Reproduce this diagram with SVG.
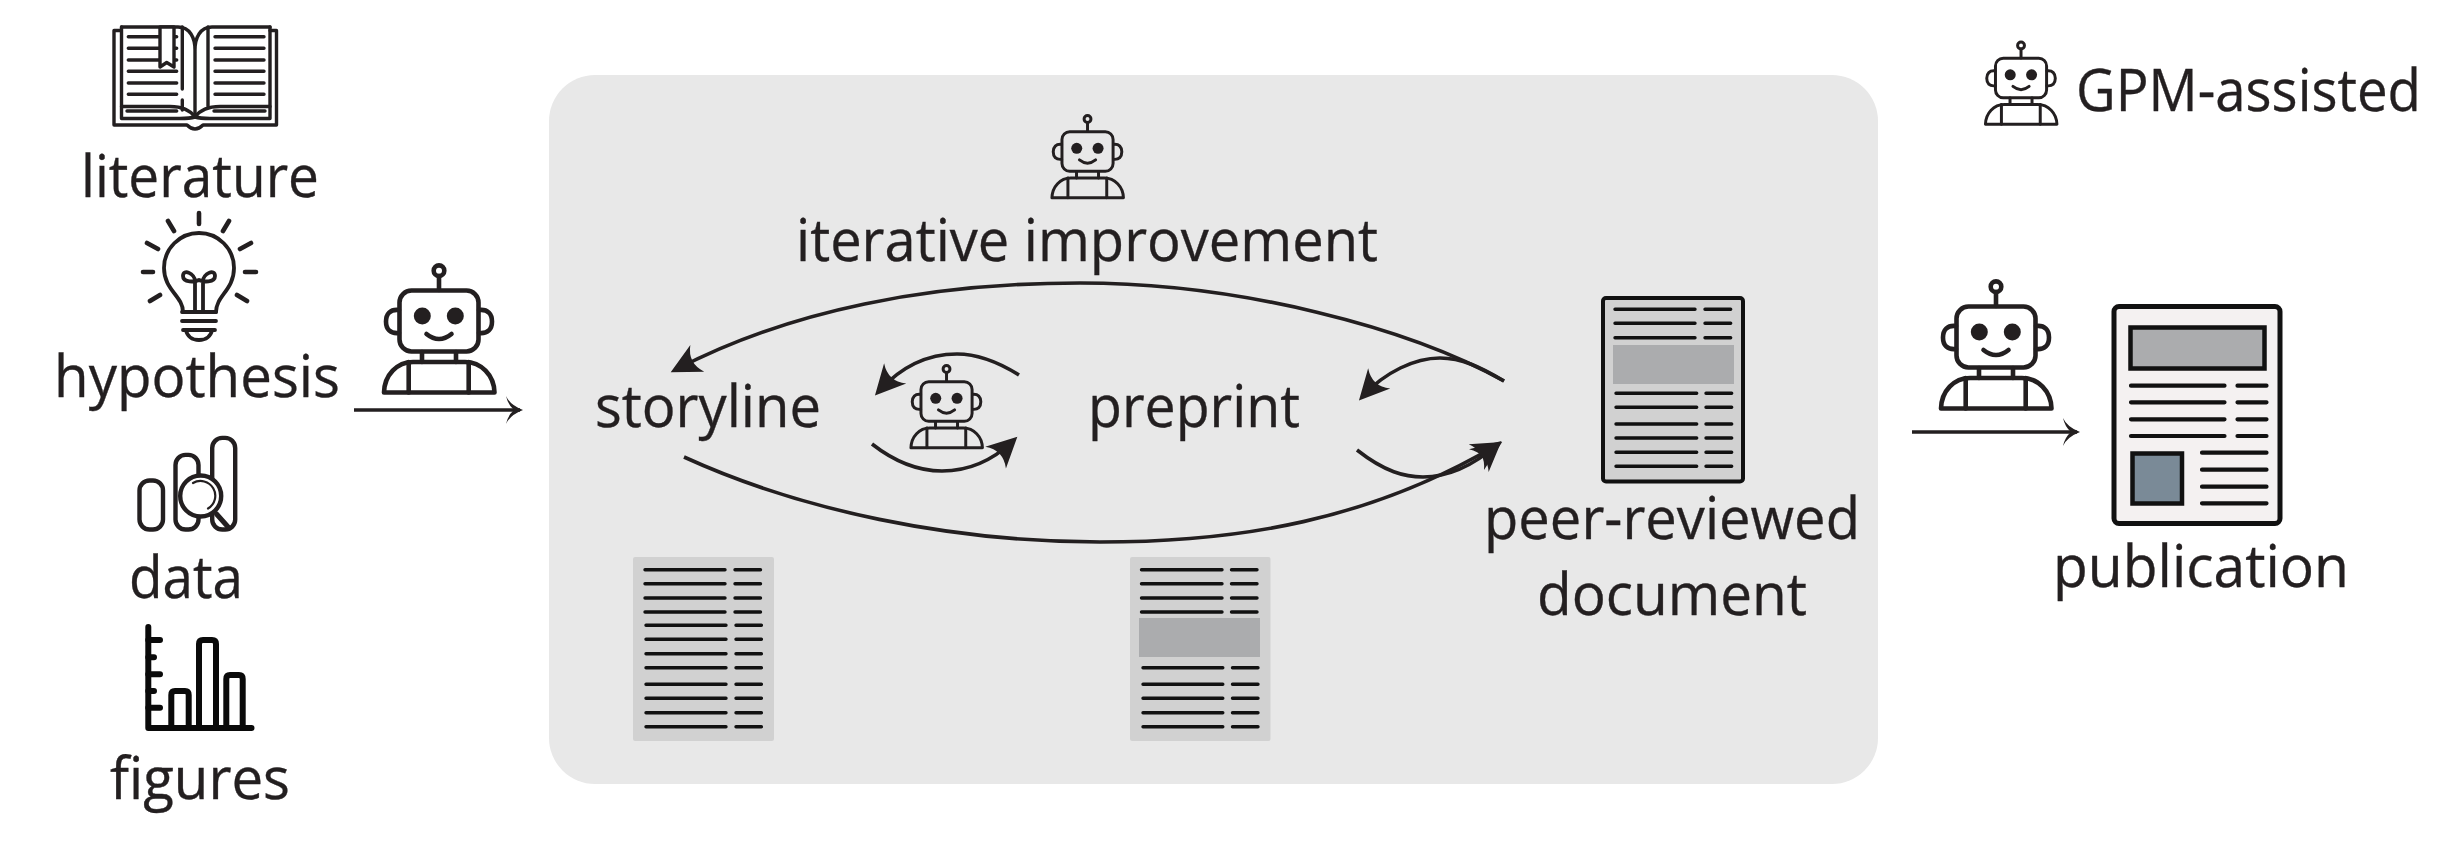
<svg xmlns="http://www.w3.org/2000/svg" width="2464" height="865" viewBox="0 0 2464 865">
<style>
text{font-family:"Open Sans","Noto Sans","Liberation Sans",sans-serif;font-size:58px;fill:#231f20;stroke:#231f20;stroke-width:.35}
.s{fill:none;stroke:#231f20;stroke-linecap:round;stroke-linejoin:round}
.ln{fill:none;stroke:#111;stroke-width:3.4;stroke-linecap:round}
.doc{fill:#d1d1d1}
.gray{fill:#abacae}
.cv{fill:none;stroke:#231f20;stroke-width:3.6}
.st{fill:none;stroke:#231f20;stroke-width:3.6}
</style>
<defs>
<marker id="head" markerUnits="userSpaceOnUse" markerWidth="40" markerHeight="40" refX="24" refY="15" orient="auto" overflow="visible">
<path d="M0,0 L30,15 L0,30 Q11,15 0,0Z" fill="#231f20"/>
</marker>
<marker id="barb" markerUnits="userSpaceOnUse" markerWidth="30" markerHeight="40" refX="14" refY="15" orient="auto" overflow="visible">
<path d="M0,1 Q4,10 17,15 Q4,20 0,29 Q2,20 8,15 Q2,10 0,1Z" fill="#231f20"/>
</marker>
<g id="robot" class="s" stroke-width="4.6">
<circle cx="58" cy="7.7" r="5.3"/>
<path d="M58,13V27"/>
<rect x="18.5" y="27.5" width="79" height="61" rx="12"/>
<path d="M18,47C9,46 5,51 5,58.500C5,66 9,71 18,70M98,47C107,46 111,51 111,58.500C111,66 107,71 98,70"/>
<circle cx="41.300" cy="53" r="8.500" fill="#231f20" stroke="none"/>
<circle cx="74.300" cy="53" r="8.500" fill="#231f20" stroke="none"/>
<path d="M45.500,71Q58,81 70.500,71"/>
<path d="M41,89V99M75,89V99"/>
<path d="M3,129.500H113.500C113,112 100,99 84,99H32C16,99 3.500,112 3,129.500Z"/>
<path d="M27.700,99V129.500M87.700,99V129.500"/>
</g>
</defs>

<rect id="panel" x="549" y="75" width="1329" height="709" rx="46" fill="#e8e8e8"/>

<g id="literature">
<g class="s" stroke-width="3.400">
<path d="M121,30.500H114V125H187Q195,133 203,125H276.500V30.500H270"/>
<path d="M121.500,27H178C190,27 195,38 195,50V117M270,27H212C200,27 195,38 195,50"/>
<path d="M121.500,27V118.500H180Q190,118.500 195,117Q200,118.500 210,118.500H270V27"/>
<path d="M121.500,106.500H170C182,106.500 190,110 195,117C200,110 207,106.500 220,106.500H270"/>
<path d="M182.300,27V89M182.300,100V110M208,27V106"/>
<path d="M128.300,36.700H176.700M128.300,48.300H176.700M128.300,60H176.700M128.300,71.300H176.700M128.300,83H176.700M128.300,94.300H176.700M127,111H176.700M215,36.700H264M215,48.300H264M215,60H264M215,71.300H264M215,83H264M215,94.300H264M214,111H265"/>
<path d="M160,27V67L166.700,62.500L174,67V27Z" fill="#fff"/>
</g>
<text x="81" y="197" textLength="238" lengthAdjust="spacingAndGlyphs">literature</text>
</g>

<g id="hypothesis">
<g class="s" stroke-width="3.800">
<path d="M183,312C183,296 164,290 164,268A35,35 0 0 1 234,268C234,290 216,296 216,312"/>
<path d="M182,312H216M182,321H216M183,330H215M186,330C187,336 192,340 199,340C206,340 211,336 212,330"/>
<path d="M195,311V281C195,274 183,268 183,276C183,283 195,282 199,280C203,282 215,283 215,276C215,268 203,274 203,281V311"/>
</g>
<g class="s" stroke-width="4.600">
<path d="M199,213V224M168,221L174,231M229,221L223,231M147,243L158,249M251,243L240,249M143,272H153M245,272H256M150,301L160,295M247,301L237,295"/>
</g>
<text x="54" y="397" textLength="286" lengthAdjust="spacingAndGlyphs">hypothesis</text>
</g>

<g id="data">
<g class="s" stroke-width="4.400">
<rect x="139.500" y="480.500" width="23.500" height="49" rx="10"/>
<rect x="175.500" y="454.900" width="23" height="74.600" rx="10"/>
<rect x="212.200" y="437.900" width="23" height="91.600" rx="10"/>
<circle cx="200.700" cy="496" r="20.500" fill="#fff"/>
<path d="M216.500,514L229,528" stroke-width="5"/>
<path d="M193,483A14.500,14.500 0 0 1 208,508.500" stroke-width="2.200"/>
</g>
<text x="129" y="598" textLength="114" lengthAdjust="spacingAndGlyphs">data</text>
</g>

<g id="figures">
<g class="s" stroke-width="6" style="stroke:#0a0a0a">
<path d="M148.300,627V728H251.500"/>
<path d="M148.300,640H160M148.300,657.300H154M148.300,674.300H160M148.300,691H154M148.300,707.700H160"/>
<path d="M171.300,728V695Q171.300,691 175,691H185Q188.700,691 188.700,695V728"/>
<path d="M199,728V644Q199,640 203,640H212Q216,640 216,644V728"/>
<path d="M226.300,728V679Q226.300,675 230,675H239Q242.700,675 242.700,679V728"/>
</g>
<text x="110" y="799" textLength="180" lengthAdjust="spacingAndGlyphs">figures</text>
</g>

<g id="robot-input"><use href="#robot" transform="translate(381,263)"/></g>
<g id="robot-output"><use href="#robot" transform="translate(1938,279)"/></g>
<g id="robot-loop"><use href="#robot" transform="translate(909,364) scale(.647)"/></g>
<g id="robot-iterative"><use href="#robot" transform="translate(1050,114) scale(.647)"/></g>

<g id="legend">
<use href="#robot" transform="translate(1983.500,40.500) scale(.647)"/>
<text x="2076" y="111" textLength="345" lengthAdjust="spacingAndGlyphs">GPM-assisted</text>
</g>

<g id="iterative-improvement">
<text x="796" y="261" textLength="582" lengthAdjust="spacingAndGlyphs">iterative improvement</text>
</g>

<g id="storyline">
<text x="595" y="427" textLength="226" lengthAdjust="spacingAndGlyphs">storyline</text>
<rect class="doc" x="633" y="557" width="141" height="184" rx="2"/>
<path class="ln" d="M645,569.700H725M735,569.700H760.500M645,583.700H725M735,583.700H760.500M645,598H725M735,598H760.500M645,612H725M735,612H760.500M646,625.300H726M736,625.300H761.400M646,639.300H726M736,639.300H761.400M646,653.700H726M736,653.700H761.400M646,667.700H726M736,667.700H761.400M646,684.300H726M736,684.300H761.400M646,698.300H726M736,698.300H761.400M646,712.700H726M736,712.700H761.400M646,726.700H726M736,726.700H761.400"/>
</g>

<g id="preprint">
<text x="1088" y="427" textLength="212" lengthAdjust="spacingAndGlyphs">preprint</text>
<rect class="doc" x="1130" y="557" width="140.500" height="184" rx="2"/>
<rect class="gray" x="1139" y="618" width="121" height="39"/>
<path class="ln" d="M1141.500,569.700H1222M1231.500,569.700H1257M1141.500,583.700H1222M1231.500,583.700H1257M1141.500,598H1222M1231.500,598H1257M1141.500,612H1222M1231.500,612H1257M1143,667.700H1222.800M1232.500,667.700H1258M1143,684.300H1222.800M1232.500,684.300H1258M1143,698.300H1222.800M1232.500,698.300H1258M1143,712.700H1222.800M1232.500,712.700H1258M1143,726.700H1222.800M1232.500,726.700H1258"/>
</g>

<g id="peer-reviewed-document">
<rect class="doc" x="1603" y="298" width="140" height="183.500" rx="3" stroke="#111" stroke-width="4"/>
<rect class="gray" x="1613" y="345" width="121" height="39"/>
<path class="ln" d="M1615,309.300H1695M1705,309.300H1730.700M1615,323.300H1695M1705,323.300H1730.700M1615,337.700H1695M1705,337.700H1730.700M1616,393.300H1696.700M1706,393.300H1731.700M1616,407.300H1696.700M1706,407.300H1731.700M1616,424H1696.700M1706,424H1731.700M1616,438H1696.700M1706,438H1731.700M1616,452.300H1696.700M1706,452.300H1731.700M1616,466.300H1696.700M1706,466.300H1731.700"/>
<text x="1484" y="539" textLength="376" lengthAdjust="spacingAndGlyphs">peer-reviewed</text>
<text x="1537" y="615" textLength="270" lengthAdjust="spacingAndGlyphs">document</text>
</g>

<g id="publication">
<rect x="2114" y="306.500" width="166" height="217" rx="5" fill="#f4f1f1" stroke="#111" stroke-width="5"/>
<rect class="gray" x="2130.500" y="327.500" width="134" height="41" stroke="#111" stroke-width="4.500"/>
<rect x="2132.500" y="453.500" width="49.500" height="50" fill="#7a8a97" stroke="#111" stroke-width="4.500"/>
<path class="ln" style="stroke-width:4.200" d="M2131,385.700H2224.500M2237.500,385.700H2266.500M2131,402.300H2224.500M2237.500,402.300H2266.500M2131,419.300H2224.500M2237.500,419.300H2266.500M2131,436H2224.500M2237.500,436H2266.500M2202,452.700H2266.500M2202,469.700H2266.500M2202,486.700H2266.500M2202,503.300H2266.500"/>
<text x="2053" y="587" textLength="296" lengthAdjust="spacingAndGlyphs">publication</text>
</g>

<g id="connectors">
<path class="st" d="M354,410H520" marker-end="url(#barb)"/>
<path class="st" d="M1912,432H2077" marker-end="url(#barb)"/>
<path class="cv" d="M1504,381C1410,328 1240,283 1080,283C930,283 790,310 676,369.500" marker-end="url(#head)"/>
<path class="cv" d="M684,457C800,510 950,542 1100,542C1240,542 1370,520 1497,445" marker-end="url(#head)"/>
<path class="cv" d="M1504,381C1480,367 1462,358 1440,358C1415,358 1385,372 1363,396" marker-end="url(#head)"/>
<path class="cv" d="M1357,450C1385,472 1405,477 1423,477C1450,477 1475,464 1497,445" marker-end="url(#head)"/>
<path class="cv" d="M1019,375C995,360 975,354 957,354C925,354 900,368 879,391" marker-end="url(#head)"/>
<path class="cv" d="M872,444C895,462 920,471 942,471C970,471 993,460 1013,441" marker-end="url(#head)"/>
</g>
</svg>
